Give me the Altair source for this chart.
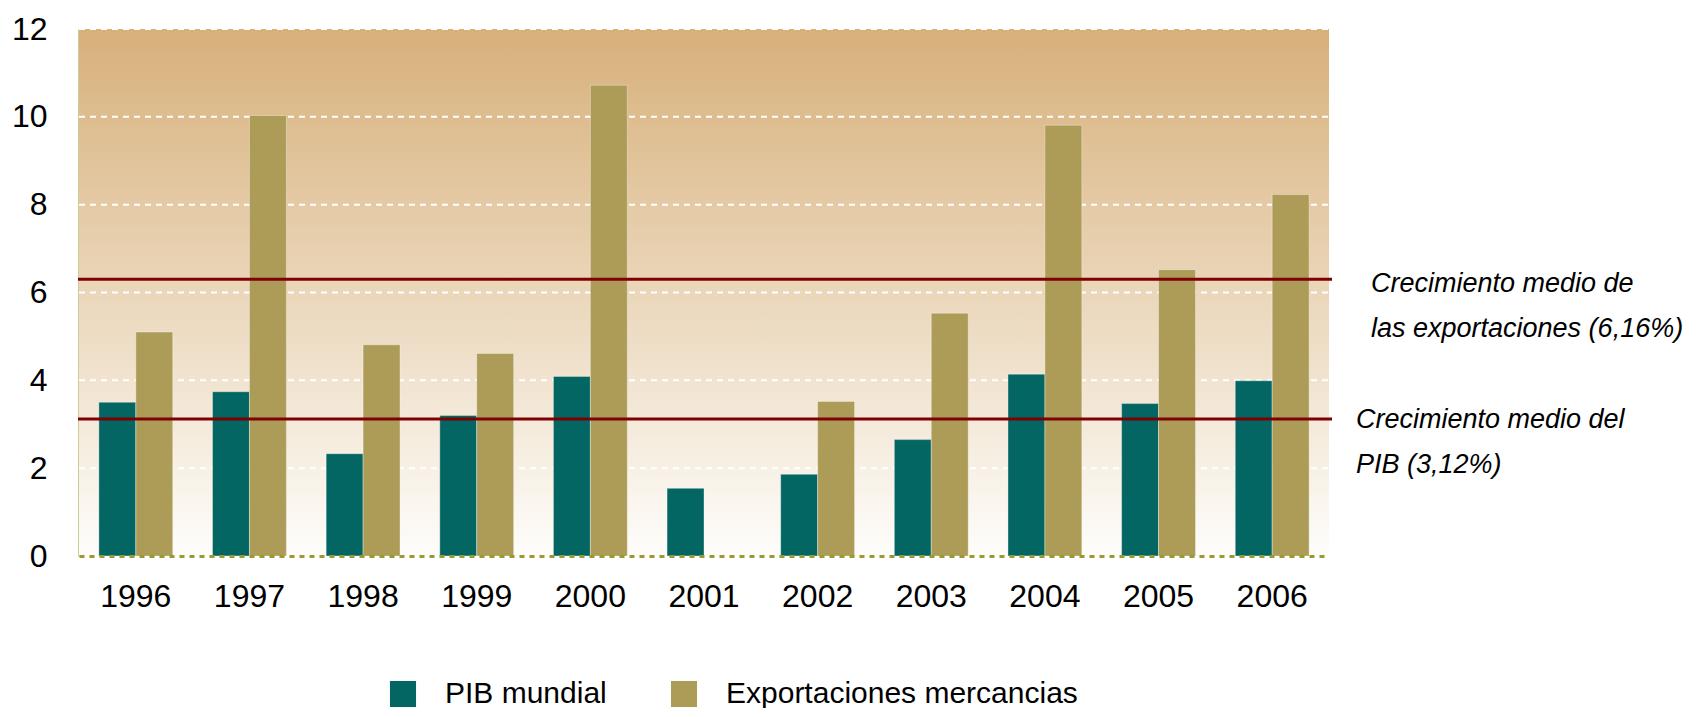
import altair as alt
import pandas as pd

years = ["1996", "1997", "1998", "1999", "2000", "2001", "2002", "2003", "2004", "2005", "2006"]
pib_mundial = [3.50, 3.74, 2.33, 3.20, 4.09, 1.54, 1.86, 2.65, 4.14, 3.47, 3.99]
exportaciones = [5.10, 10.03, 4.81, 4.61, 10.72, 0.0, 3.52, 5.53, 9.81, 6.52, 8.23]
series_names = ["PIB mundial", "Exportaciones mercancias"]
avg_lines = [6.3, 3.12]
ann_export = ["Crecimiento medio de", "las exportaciones (6,16%)"]
ann_pib = ["Crecimiento medio del", "PIB (3,12%)"]
y_ticks = [0, 2, 4, 6, 8, 10, 12]
grid_ticks = [2, 4, 6, 8, 10, 12]

rows = []
for i, y in enumerate(years):
    rows.append({"Year": y, "Serie": series_names[0], "Value": pib_mundial[i]})
    rows.append({"Year": y, "Serie": series_names[1], "Value": exportaciones[i]})
df = pd.DataFrame(rows)

W, H = 1250, 527
FONT = "Liberation Sans, Arial, sans-serif"
yscale = alt.Scale(domain=[0, 12], nice=False, zero=True)
yaxis = alt.Axis(values=y_ticks, title=None, grid=False, ticks=False, tickSize=0,
                 labelFont=FONT, labelFontSize=32, labelColor="black",
                 labelPadding=32, domainColor="#9a9a2e", domainWidth=2)

one = pd.DataFrame({"a": [0]})

bg = alt.Chart(one).mark_rect(
    color=alt.Gradient(
        gradient="linear",
        stops=[alt.GradientStop(color="#d7b07a", offset=0),
               alt.GradientStop(color="#fefdfb", offset=1)],
        x1=0, x2=0, y1=0, y2=1,
    )
).encode(x=alt.value(0), x2=alt.value(W), y=alt.value(0), y2=alt.value(H))

grid = alt.Chart(pd.DataFrame({"v": grid_ticks})).mark_rule(
    color="white", strokeWidth=2, strokeDash=[6, 5]
).encode(
    y=alt.Y("v:Q", scale=yscale, axis=yaxis),
    x=alt.value(0), x2=alt.value(W),
)

bars = alt.Chart(df).mark_bar(stroke="white", strokeOpacity=0.35, strokeWidth=1).encode(
    x=alt.X("Year:N", sort=years,
            scale=alt.Scale(paddingInner=0.35, paddingOuter=0.175),
            axis=alt.Axis(title=None, labelAngle=0, labelFont=FONT, labelFontSize=32,
                          labelColor="black", labelPadding=25, ticks=False, tickSize=0,
                          domainColor="#9a9a2e", domainWidth=3, domainDash=[5, 5],
                          zindex=1)),
    xOffset=alt.XOffset("Serie:N", sort=series_names),
    y=alt.Y("Value:Q", scale=yscale, axis=yaxis),
    color=alt.Color("Serie:N", sort=series_names,
                    scale=alt.Scale(domain=series_names, range=["#036663", "#ac9c58"]),
                    legend=alt.Legend(title=None, orient="none", legendX=309, legendY=650,
                                      direction="horizontal", symbolType="square",
                                      symbolSize=680, symbolStrokeWidth=0,
                                      labelFont=FONT, labelFontSize=30, labelColor="black",
                                      labelLimit=0, labelOffset=27, columnPadding=62,
                                      padding=0)),
)

rules = alt.Chart(pd.DataFrame({"v": avg_lines})).mark_rule(
    color="#7f0000", strokeWidth=3
).encode(y=alt.Y("v:Q", scale=yscale, axis=yaxis), x=alt.value(-1), x2=alt.value(1253))

t1 = alt.Chart(one).mark_text(
    align="left", baseline="alphabetic", font=FONT, fontStyle="italic",
    fontSize=27, lineHeight=45, color="black"
).encode(x=alt.value(1292), y=alt.value(263), text=alt.value(ann_export))

t2 = alt.Chart(one).mark_text(
    align="left", baseline="alphabetic", font=FONT, fontStyle="italic",
    fontSize=27, lineHeight=45, color="black"
).encode(x=alt.value(1277), y=alt.value(399), text=alt.value(ann_pib))

chart = alt.layer(bg, grid, bars, rules, t1, t2).properties(
    width=W, height=H,
    autosize=alt.AutoSizeParams(type="none"),
    padding={"left": 71, "top": 21, "right": 366, "bottom": 152},
).configure_view(stroke=None)

chart.save("out.html", embed_options={"renderer": "svg", "actions": False})
